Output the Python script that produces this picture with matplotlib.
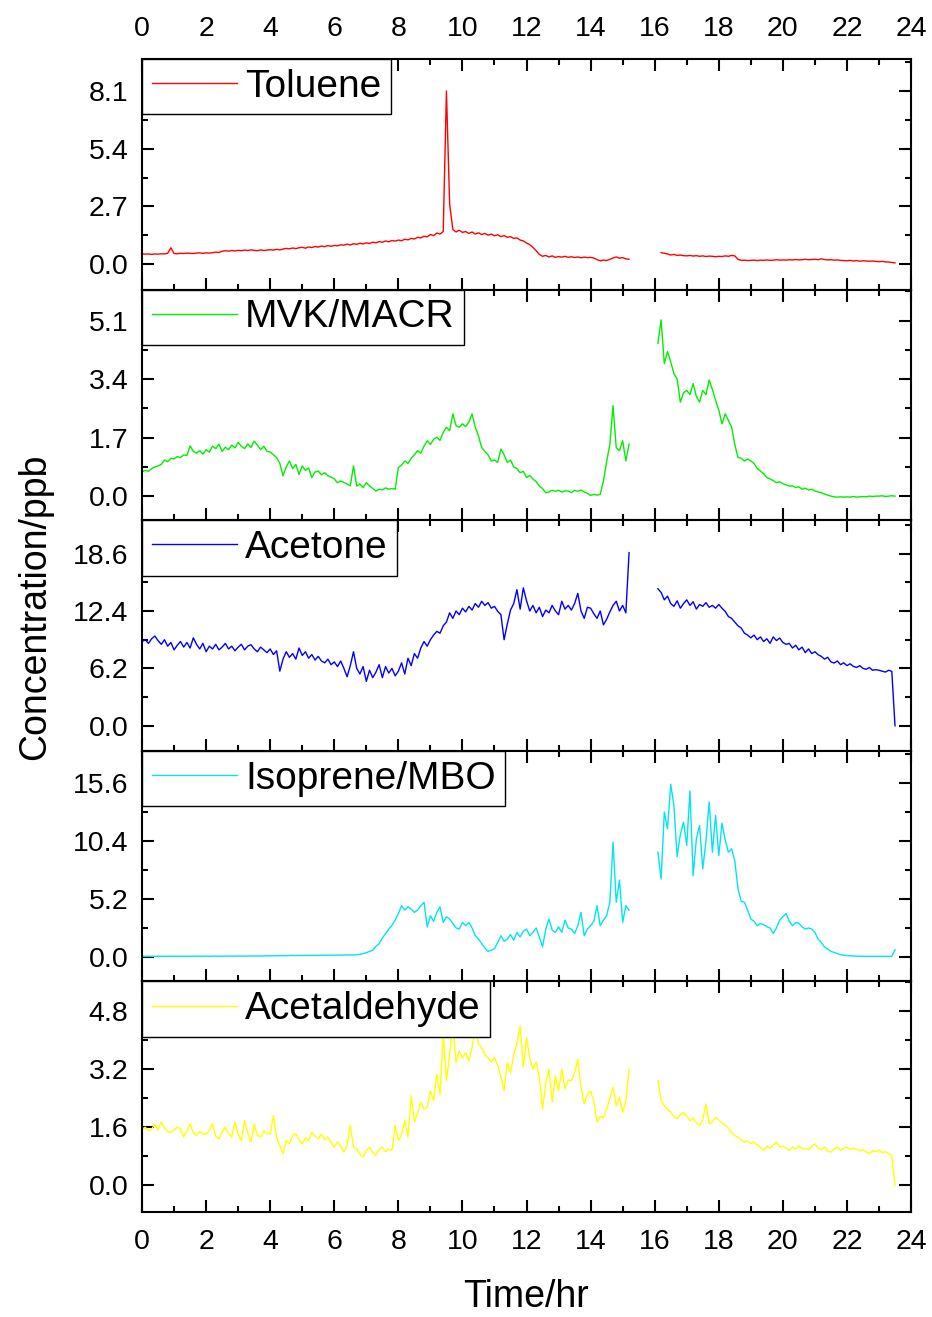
import numpy as np
import matplotlib
matplotlib.use('Agg')
import matplotlib.pyplot as plt
from matplotlib.ticker import MultipleLocator, FormatStrFormatter

plt.rcParams['font.family'] = ['Liberation Sans', 'DejaVu Sans']

na = np.nan

# time axis, one sample every 0.1 hr
hours = np.round(np.arange(0, 23.55, 0.1), 1)

toluene = [
    0.48, 0.46, 0.47, 0.45, 0.47, 0.46, 0.48, 0.47, 0.50, 0.76,
    0.49, 0.48, 0.50, 0.49, 0.51, 0.50, 0.49, 0.51, 0.52, 0.50,
    0.52, 0.51, 0.53, 0.55, 0.54, 0.60, 0.62, 0.60, 0.63, 0.61,
    0.64, 0.62, 0.65, 0.63, 0.66, 0.64, 0.62, 0.66, 0.63, 0.65,
    0.67, 0.65, 0.69, 0.66, 0.70, 0.73, 0.71, 0.75, 0.72, 0.76,
    0.78, 0.74, 0.80, 0.77, 0.82, 0.79, 0.84, 0.81, 0.86, 0.83,
    0.87, 0.85, 0.90, 0.88, 0.93, 0.89, 0.95, 0.92, 0.97, 0.94,
    0.99, 0.96, 1.02, 0.99, 1.05, 1.02, 1.08, 1.04, 1.10, 1.07,
    1.12, 1.09, 1.16, 1.13, 1.20, 1.17, 1.25, 1.22, 1.30, 1.27,
    1.38, 1.33, 1.45, 1.40, 1.52, 8.10, 2.80, 1.62, 1.50, 1.58,
    1.48, 1.52, 1.43, 1.50, 1.40, 1.46, 1.38, 1.43, 1.35, 1.40,
    1.32, 1.37, 1.28, 1.33, 1.25, 1.28, 1.20, 1.22, 1.12, 1.08,
    0.98, 0.90, 0.78, 0.62, 0.45, 0.36, 0.40, 0.33, 0.38, 0.31,
    0.35, 0.32, 0.36, 0.31, 0.34, 0.30, 0.33, 0.29, 0.32, 0.30,
    0.31, 0.28, 0.20, 0.15, 0.18, 0.16, 0.22, 0.28, 0.33, 0.27,
    0.30, 0.24, 0.22, na, na, na, na, na, na, na,
    na, na, 0.53, 0.50, 0.47, 0.42, 0.45, 0.40, 0.42, 0.39,
    0.38, 0.40, 0.37, 0.39, 0.36, 0.38, 0.35, 0.37, 0.36, 0.34,
    0.36, 0.35, 0.38, 0.36, 0.40, 0.38, 0.22, 0.17, 0.18, 0.16,
    0.17, 0.18, 0.16, 0.18, 0.17, 0.19, 0.17, 0.18, 0.20, 0.18,
    0.19, 0.18, 0.20, 0.19, 0.21, 0.19, 0.20, 0.22, 0.20, 0.21,
    0.22, 0.20, 0.24, 0.21, 0.19, 0.20, 0.18, 0.19, 0.17, 0.16,
    0.15, 0.17, 0.14, 0.16, 0.13, 0.15, 0.14, 0.13, 0.14, 0.12,
    0.11, 0.12, 0.10, 0.09, 0.07, 0.05,
]

mvk_macr = [
    0.70, 0.75, 0.72, 0.80, 0.85, 0.88, 0.92, 1.05, 1.00, 1.10,
    1.08, 1.15, 1.12, 1.20, 1.18, 1.46, 1.30, 1.25, 1.32, 1.22,
    1.35, 1.28, 1.45, 1.38, 1.51, 1.30, 1.42, 1.35, 1.48, 1.40,
    1.56, 1.45, 1.38, 1.52, 1.41, 1.60, 1.48, 1.35, 1.45, 1.30,
    1.28, 1.20, 1.12, 0.95, 0.59, 0.85, 1.02, 0.80, 0.92, 0.63,
    0.88, 0.75, 0.82, 0.54, 0.70, 0.73, 0.62, 0.68, 0.59, 0.55,
    0.50, 0.39, 0.44, 0.40, 0.35, 0.30, 0.88, 0.29, 0.35, 0.25,
    0.39, 0.30, 0.22, 0.15, 0.20, 0.18, 0.24, 0.20, 0.22, 0.20,
    0.83, 0.90, 1.02, 0.95, 1.10, 1.20, 1.32, 1.25, 1.45, 1.61,
    1.50, 1.65, 1.71, 1.62, 1.85, 2.00, 1.90, 2.39, 2.05, 2.00,
    2.10, 2.02, 2.15, 2.39, 2.00, 1.75, 1.41, 1.30, 1.20, 1.02,
    1.05, 0.98, 1.37, 1.20, 0.98, 1.05, 0.85, 0.80, 0.68, 0.72,
    0.54, 0.60, 0.50, 0.42, 0.29, 0.22, 0.10, 0.12, 0.17, 0.14,
    0.17, 0.12, 0.15, 0.15, 0.10, 0.17, 0.14, 0.18, 0.12, 0.08,
    0.02, 0.05, 0.03, 0.05, 0.44, 1.00, 1.50, 2.63, 1.40, 1.32,
    1.61, 1.02, 1.51, na, na, na, na, na, na, na,
    na, 4.44, 5.12, 3.85, 4.20, 3.90, 3.56, 3.40, 2.73, 3.00,
    3.07, 2.95, 3.27, 2.90, 2.73, 3.07, 2.95, 3.37, 3.10, 2.78,
    2.50, 2.10, 2.39, 2.20, 2.00, 1.50, 1.12, 1.10, 1.02, 1.08,
    1.02, 0.95, 0.80, 0.73, 0.65, 0.54, 0.50, 0.45, 0.39, 0.42,
    0.36, 0.33, 0.29, 0.30, 0.25, 0.27, 0.20, 0.23, 0.18, 0.20,
    0.15, 0.12, 0.10, 0.06, 0.03, 0.00, -0.02, -0.03, -0.02, -0.03,
    -0.02, -0.03, -0.01, -0.03, -0.02, -0.01, -0.02, 0.00, -0.01, 0.00,
    0.00, 0.01, -0.01, 0.00, 0.01, 0.00,
]

acetone = [
    9.1, 9.3, 8.9, 9.4, 9.7, 9.2, 8.8, 9.3, 8.6, 9.0,
    8.2, 8.7, 9.1, 8.5, 9.0, 8.4, 9.5, 8.8, 8.3, 8.9,
    8.0, 8.6, 8.3, 8.8, 8.2, 8.5, 8.9, 8.3, 8.6, 8.1,
    8.5, 8.8, 8.2, 8.6, 8.76, 8.3, 8.0, 8.5, 8.2, 7.9,
    8.3, 7.7, 8.1, 5.9, 7.2, 8.0, 7.4, 7.8, 7.2, 8.4,
    7.6, 8.0, 7.3, 7.7, 7.1, 7.5, 7.0, 6.8, 7.2, 6.6,
    6.9, 6.4, 7.0, 6.2, 5.3, 6.5, 8.0, 6.2, 5.6, 6.4,
    4.8, 6.0, 5.2, 5.8, 6.6, 5.2, 6.4, 5.7, 6.2, 5.4,
    5.9, 6.8, 5.6, 7.3, 6.5, 7.8, 7.3, 8.4, 9.1, 8.6,
    9.3, 9.8, 10.2, 10.0, 10.8, 11.2, 12.2, 11.6, 12.4, 12.0,
    12.7, 12.3, 12.9, 12.5, 13.2, 12.8, 13.45, 13.0, 13.3, 12.7,
    12.9, 12.36, 12.0, 9.3, 11.0, 12.5, 13.2, 14.7, 12.6, 14.9,
    13.5, 12.4, 13.0, 12.2, 12.8, 11.8, 12.5, 12.2, 13.0, 12.4,
    12.0, 13.45, 12.6, 13.0, 12.5, 13.2, 14.3, 12.4, 11.6, 12.8,
    12.7, 12.1, 11.6, 12.4, 10.9, 11.5, 12.3, 13.0, 13.45, 12.4,
    13.0, 12.2, 18.7, na, na, na, na, na, na, na,
    na, 14.8, 14.4, 13.6, 14.0, 13.2, 12.9, 13.5, 12.7, 13.2,
    13.6, 13.0, 13.4, 12.6, 13.1, 12.9, 13.3, 12.8, 13.0, 12.7,
    13.1, 12.7, 12.36, 11.8, 11.6, 11.2, 10.8, 10.56, 10.0, 9.8,
    9.5, 9.8, 9.3, 9.6, 9.1, 9.4, 8.9, 9.6, 9.2, 9.48,
    9.0, 8.8, 8.9, 8.4, 8.7, 8.2, 8.5, 7.9, 8.3, 7.8,
    8.0, 7.68, 7.5, 7.2, 7.4, 6.9, 6.78, 7.0, 6.6, 6.8,
    6.5, 6.7, 6.42, 6.3, 6.5, 6.2, 6.1, 6.3, 6.0, 6.06,
    6.0, 5.9, 5.8, 6.0, 5.88, 0.0,
]

isoprene_mbo = [
    0.05, 0.05, 0.06, 0.05, 0.05, 0.06, 0.05, 0.06, 0.05, 0.06,
    0.06, 0.05, 0.06, 0.06, 0.05, 0.06, 0.06, 0.07, 0.06, 0.06,
    0.07, 0.06, 0.07, 0.07, 0.06, 0.07, 0.07, 0.08, 0.07, 0.07,
    0.08, 0.07, 0.08, 0.08, 0.09, 0.08, 0.09, 0.08, 0.09, 0.10,
    0.10, 0.11, 0.10, 0.12, 0.11, 0.12, 0.12, 0.13, 0.12, 0.13,
    0.13, 0.14, 0.13, 0.14, 0.15, 0.14, 0.15, 0.16, 0.15, 0.16,
    0.16, 0.17, 0.16, 0.17, 0.18, 0.17, 0.18, 0.19, 0.22, 0.30,
    0.38, 0.50, 0.60, 0.95, 1.20, 1.70, 2.10, 2.50, 2.84, 3.30,
    3.90, 4.60, 4.20, 4.50, 4.30, 4.00, 4.20, 4.60, 4.90, 2.70,
    3.70, 3.20, 4.00, 4.50, 3.10, 3.60, 3.40, 3.00, 2.60, 2.50,
    3.10, 2.80, 3.10, 2.60, 1.90, 1.60, 1.20, 0.80, 0.50, 0.60,
    0.75, 1.30, 1.90, 1.40, 1.60, 2.00, 1.50, 2.20, 1.80, 2.30,
    2.50, 1.90, 2.20, 2.60, 1.80, 0.90, 2.50, 3.40, 2.40, 2.20,
    2.70, 2.20, 3.30, 2.60, 2.50, 2.10, 2.80, 4.00, 1.90, 2.50,
    2.80, 3.20, 4.60, 2.80, 3.30, 3.70, 4.90, 10.30, 4.90, 6.90,
    3.10, 4.60, 4.20, na, na, na, na, na, na, na,
    na, 9.4, 7.0, 13.0, 11.5, 15.5, 13.6, 9.0, 11.0, 12.1,
    10.0, 14.9, 7.3, 10.6, 11.8, 7.9, 10.4, 13.9, 9.4, 12.7,
    9.1, 12.0, 10.5, 9.4, 9.7, 8.6, 6.1, 5.0, 4.9, 4.2,
    3.4, 3.2, 2.8, 3.0, 2.9, 2.7, 2.6, 2.1, 2.6, 3.3,
    3.6, 3.9, 3.2, 2.8, 3.1, 3.0, 2.7, 2.5, 2.6, 2.5,
    2.2, 1.6, 1.3, 0.9, 0.7, 0.5, 0.4, 0.3, 0.2, 0.15,
    0.12, 0.10, 0.08, 0.07, 0.06, 0.06, 0.05, 0.05, 0.05, 0.05,
    0.05, 0.05, 0.05, 0.05, 0.05, 0.65,
]

acetaldehyde = [
    1.55, 1.60, 1.50, 1.55, 1.68, 1.52, 1.74, 1.58, 1.48, 1.46,
    1.52, 1.60, 1.55, 1.33, 1.50, 1.69, 1.45, 1.37, 1.48, 1.42,
    1.40, 1.52, 1.69, 1.35, 1.28, 1.48, 1.60, 1.42, 1.33, 1.74,
    1.40, 1.23, 1.78, 1.45, 1.19, 1.69, 1.38, 1.33, 1.50, 1.42,
    1.42, 1.92, 1.30, 1.10, 0.87, 1.23, 1.15, 1.38, 1.42, 1.25,
    1.14, 1.30, 1.22, 1.46, 1.35, 1.28, 1.40, 1.25, 1.33, 1.18,
    1.05, 1.20, 1.08, 0.91, 1.10, 1.65, 1.05, 1.00, 0.85, 0.78,
    0.95, 1.05, 0.90, 0.82, 1.00, 1.05, 0.92, 1.00, 0.96, 1.65,
    1.23, 1.40, 1.78, 1.33, 2.47, 1.74, 2.00, 2.29, 2.10, 2.15,
    2.60, 2.33, 3.06, 2.50, 4.16, 2.88, 3.60, 4.43, 3.38, 3.70,
    3.50, 3.66, 3.43, 3.80, 4.34, 3.90, 3.79, 3.60, 3.52, 3.40,
    3.52, 3.30, 3.00, 2.60, 3.38, 3.10, 3.60, 3.90, 4.39, 3.25,
    4.07, 3.52, 3.20, 3.40, 2.97, 2.10, 2.80, 3.20, 2.29, 3.02,
    2.60, 3.20, 2.65, 2.90, 2.88, 3.10, 3.47, 2.70, 2.24, 2.51,
    2.60, 2.30, 1.74, 1.90, 1.85, 2.10, 2.40, 2.70, 2.19, 2.42,
    2.01, 2.30, 3.20, na, na, na, na, na, na, na,
    na, 2.88, 2.33, 2.20, 2.10, 2.00, 1.90, 1.83, 1.95, 2.01,
    1.90, 1.78, 1.85, 1.72, 1.65, 1.80, 2.24, 1.69, 1.75, 1.87,
    1.80, 1.72, 1.65, 1.58, 1.45, 1.37, 1.32, 1.25, 1.19, 1.22,
    1.15, 1.19, 1.10, 1.05, 0.96, 1.08, 1.02, 1.10, 1.19, 1.05,
    1.08, 1.02, 0.96, 1.05, 1.00, 1.08, 1.00, 1.02, 0.98, 1.06,
    1.14, 1.02, 0.98, 1.05, 0.95, 0.91, 1.00, 1.05, 0.96, 1.02,
    1.05, 0.98, 1.02, 1.00, 0.95, 0.98, 0.92, 0.87, 0.95, 0.92,
    0.96, 0.90, 0.92, 0.88, 0.80, 0.00,
]

names = ['Toluene', 'MVK/MACR', 'Acetone', 'Isoprene/MBO', 'Acetaldehyde']
series = [toluene, mvk_macr, acetone, isoprene_mbo, acetaldehyde]
colors = ['#FF0000', '#00EE00', '#0000FF', '#00E5EE', '#FFFF00']
steps = [2.7, 1.7, 6.2, 5.2, 1.6]
ylims = [(-1.2, 9.6), (-0.7, 6.0), (-2.7, 22.2), (-2.2, 18.5), (-0.74, 5.62)]

fig, axes = plt.subplots(5, 1, sharex=True, figsize=(9.32, 13.17), dpi=100)
fig.subplots_adjust(left=0.1524, right=0.9775, bottom=0.0797, top=0.9552, hspace=0)

for i in range(5):
    ax = axes[i]
    ax.plot(hours, series[i], color=colors[i], lw=1.0, label=names[i])
    ax.set_xlim(0, 24)
    ax.set_ylim(ylims[i])
    ax.xaxis.set_major_locator(MultipleLocator(2))
    ax.xaxis.set_minor_locator(MultipleLocator(1))
    ax.yaxis.set_major_locator(MultipleLocator(steps[i]))
    ax.yaxis.set_minor_locator(MultipleLocator(steps[i] / 2))
    ax.yaxis.set_major_formatter(FormatStrFormatter('%.1f'))
    ax.tick_params(which='both', direction='in', top=True, right=True, width=1.5)
    ax.tick_params(which='major', length=8.5, labelsize=20.5)
    ax.tick_params(which='minor', length=4.5)
    ax.tick_params(axis='y', pad=10)
    ax.tick_params(axis='x', pad=12)
    for s in ax.spines.values():
        s.set_linewidth(1.5)
    leg = ax.legend(loc='upper left', fontsize=28, borderaxespad=0, fancybox=False,
                    edgecolor='black', framealpha=1, borderpad=0.25,
                    handlelength=2.2, handletextpad=0.2)
    leg.get_frame().set_linewidth(1.0)

axes[0].tick_params(axis='x', labeltop=True, labelbottom=False)
axes[4].tick_params(axis='x', labelbottom=True)

fig.text(0.038, 0.539, 'Concentration/ppb', rotation=90, ha='center', va='center', fontsize=27)
fig.text(0.564, 0.015, 'Time/hr', ha='center', va='center', fontsize=27)

plt.savefig('out.png', dpi=100)
